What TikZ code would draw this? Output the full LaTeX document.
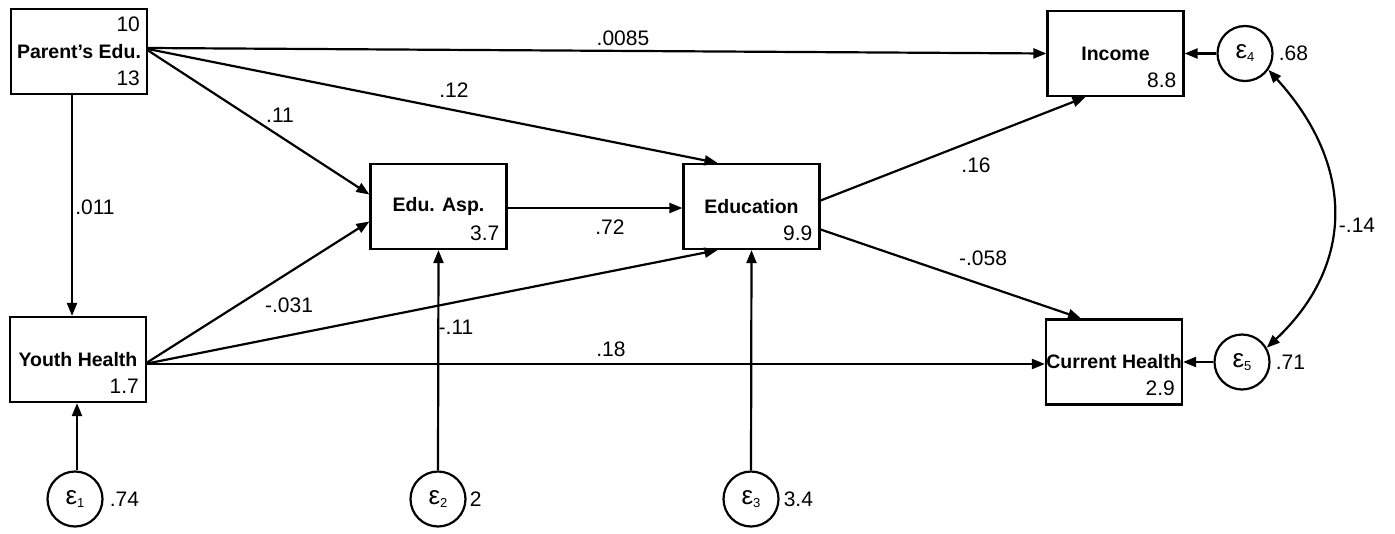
\documentclass[tikz,border=0pt]{standalone}
\usepackage{fontspec}
\setmainfont{Liberation Sans}
\usetikzlibrary{arrows.meta,calc}
\newcommand\epsx[1]{{\fontsize{26}{26}\selectfont ε}\raisebox{-3pt}{\fontsize{13}{13}\selectfont #1}}
\begin{document}
\begin{tikzpicture}[x=1pt,y=-1pt,
  box/.style={draw,line width=2.2pt,minimum width=136pt,minimum height=85pt,inner sep=0pt,font=\fontsize{19.5}{20}\selectfont\bfseries},
  err/.style={draw,circle,line width=2.2pt,minimum size=55pt,inner sep=0pt},
  num/.style={font=\fontsize{21}{21}\selectfont,inner sep=0pt},
  arr/.style={line width=2.2pt,-{Triangle[length=13pt,width=10pt]}},
  biarr/.style={line width=2.2pt,{Triangle[length=13pt,width=10pt]}-{Triangle[length=13pt,width=10pt]}}]
\path[use as bounding box] (0,0) rectangle (1395,533);
% boxes
\node[box] (pe) at (79,51.5) {Parent's Edu.};
\node[box] (yh) at (78,359.5) {Youth Health};
\node[box] (ea) at (438.5,206.5) {Edu. Asp.};
\node[box] (ed) at (751.5,206.5) {Education};
\node[box] (inc) at (1115.5,53.5) {Income};
\node[box] (ch) at (1114,362) {Current Health};
% values inside boxes
\node[num,anchor=base east] (pev1) at ($(pe.north east)+(-8,24)$) {10};
\node[num,anchor=base east] (pev2) at ($(pe.south east)+(-8,-10)$) {13};
\node[num,anchor=base east] (yhv) at ($(yh.south east)+(-8,-10)$) {1.7};
\node[num,anchor=base east] (eav) at ($(ea.south east)+(-8,-10)$) {3.7};
\node[num,anchor=base east] (edv) at ($(ed.south east)+(-8,-10)$) {9.9};
\node[num,anchor=base east] (incv) at ($(inc.south east)+(-8,-10)$) {8.8};
\node[num,anchor=base east] (chv) at ($(ch.south east)+(-8,-10)$) {2.9};
% error terms
\node[err] (e1) at (75,499) {\epsx{1}};
\node[err] (e2) at (438,499) {\epsx{2}};
\node[err] (e3) at (751,499) {\epsx{3}};
\node[err] (e4) at (1245,53.5) {\epsx{4}};
\node[err] (e5) at (1242,362) {\epsx{5}};
\node[num,anchor=west] (e1v) at ($(e1.east)+(6,0)$) {.74};
\node[num,anchor=west] (e2v) at ($(e2.east)+(3,0)$) {2};
\node[num,anchor=west] (e3v) at ($(e3.east)+(4,0)$) {3.4};
\node[num,anchor=west] (e4v) at ($(e4.east)+(5,0)$) {.68};
\node[num,anchor=west] (e5v) at ($(e5.east)+(5,0)$) {.71};
% paths
\draw[arr] ([yshift=3.5pt]pe.east) -- (inc.west);
\draw[arr] ([yshift=2.5pt]pe.east) -- ([xshift=-34pt]ed.north);
\draw[arr] ([yshift=1pt]pe.east) -- ([yshift=12pt]ea.west);
\draw[arr] ([xshift=-7pt]pe.south) -- ([xshift=-6pt]yh.north);
\draw[arr] ([yshift=-3pt]yh.east) -- ([yshift=-15pt]ea.west);
\draw[arr] ([yshift=-4pt]yh.east) -- ([xshift=-34pt]ed.south);
\draw[arr] ([yshift=-4.5pt]yh.east) -- ([yshift=-2pt]ch.west);
\draw[arr] ([yshift=-1.5pt]ea.east) -- ([yshift=-1.5pt]ed.west);
\draw[arr] ([yshift=6pt]ed.east) -- ([xshift=-30pt]inc.south);
\draw[arr] ([yshift=-23pt]ed.east) -- ([xshift=-33pt]ch.north);
\draw[arr] ([xshift=2pt]e1.north) -- ([xshift=-1pt]yh.south);
\draw[arr] (e2.north) -- (ea.south);
\draw[arr] (e3.north) -- (ed.south);
\draw[arr] (e4.west) -- (inc.east);
\draw[arr] (e5.west) -- (ch.east);
\draw[biarr] (e4.-35) .. controls (1355,165) and (1355,265) .. (e5.30);
% path labels
\node[num] (l1) at (623,38) {.0085};
\node[num] (l2) at (454,90) {.12};
\node[num] (l3) at (280,115) {.11};
\node[num] (l4) at (95,207) {.011};
\node[num] (l5) at (289,305) {-.031};
\node[num] (l6) at (610,227) {.72};
\node[num] (l7) at (456,327) {-.11};
\node[num] (l8) at (611,349) {.18};
\node[num] (l9) at (976,165) {.16};
\node[num] (l10) at (983,258) {-.058};
\node[num] (l11) at (1357,225) {-.14};
\end{tikzpicture}
\end{document}
